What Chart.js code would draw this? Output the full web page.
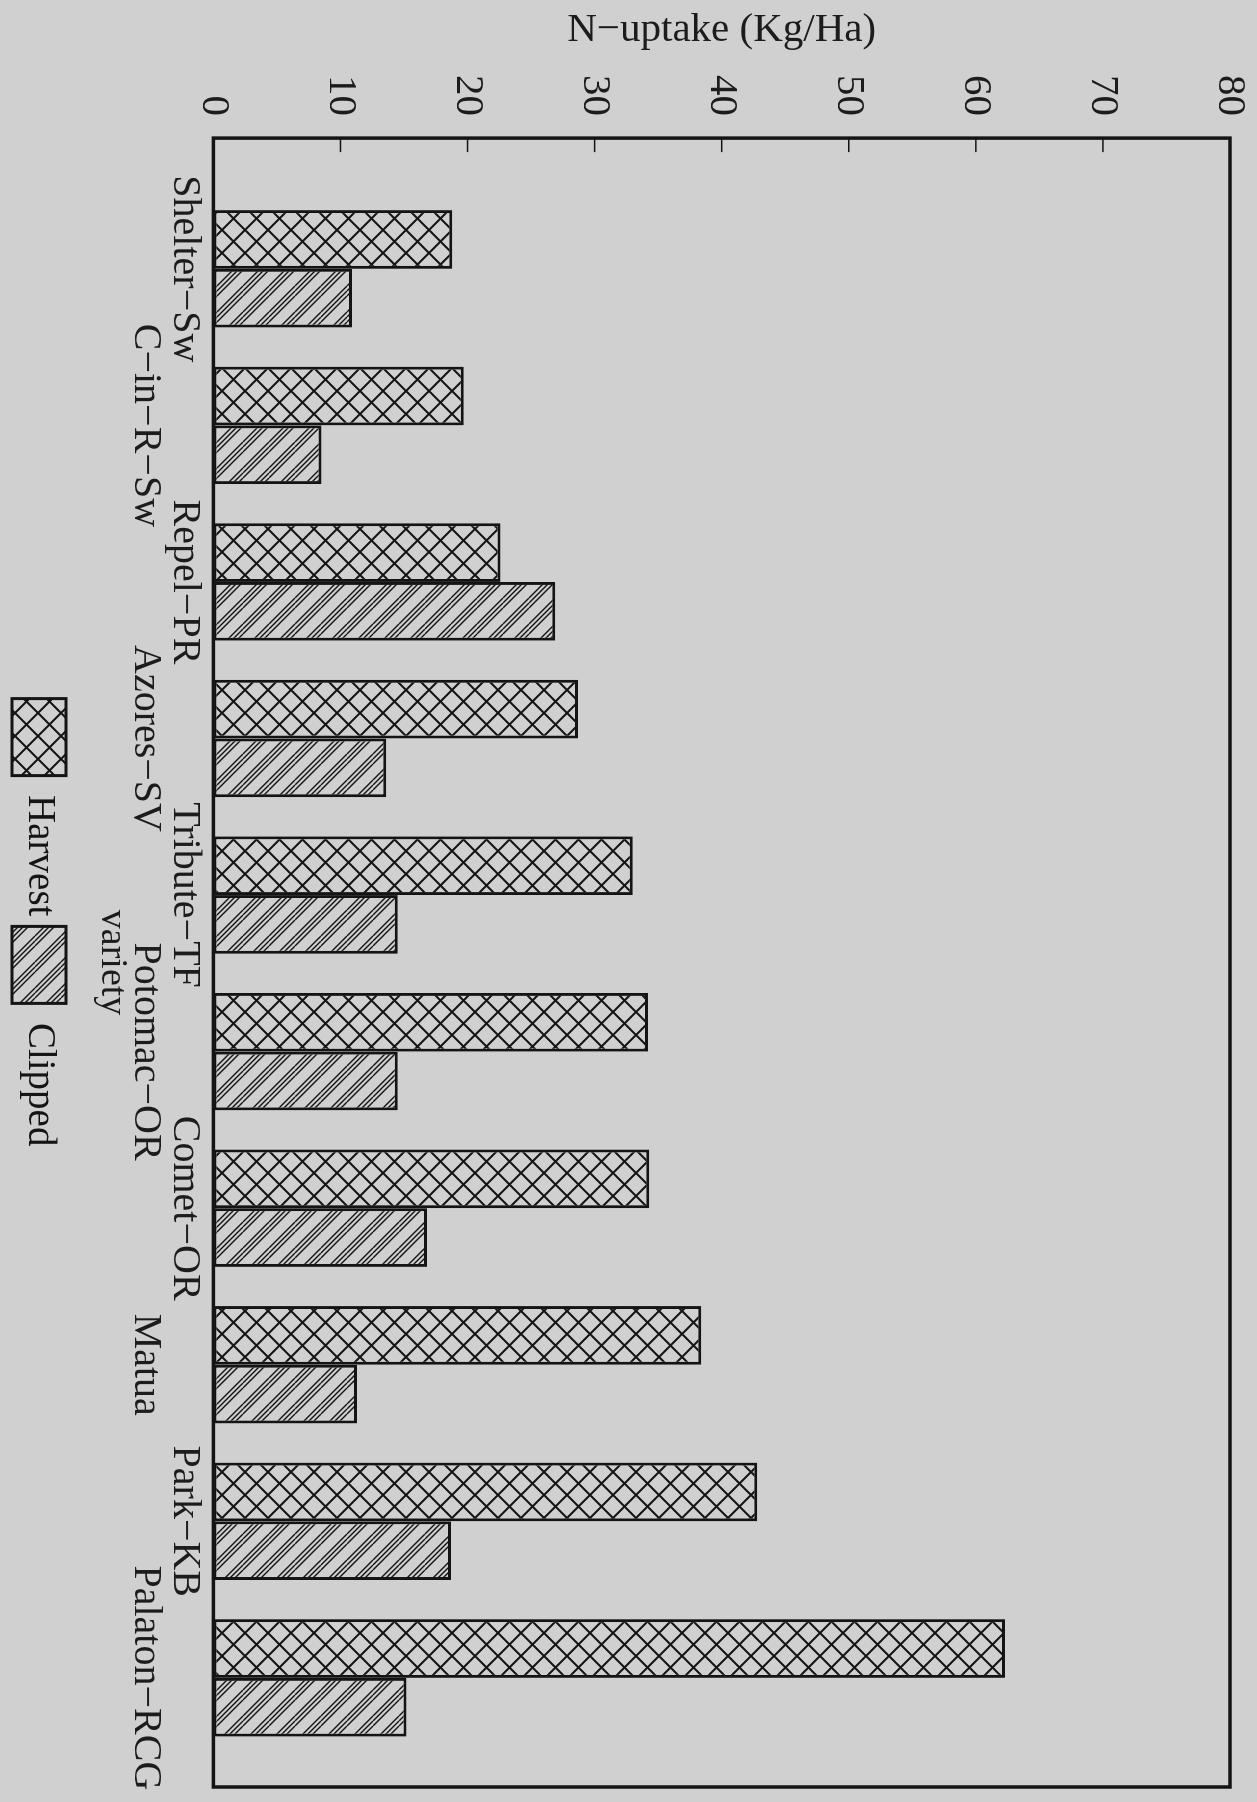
<!DOCTYPE html>
<html>
<head>
<meta charset="utf-8">
<script src="https://cdn.jsdelivr.net/npm/chart.js@4.4.0/dist/chart.umd.min.js"></script>
<style>
  html, body { margin: 0; padding: 0; background: #d0d0d0; overflow: hidden; width: 1257px; height: 1802px; }
  /* chart is drawn upright and the whole thing turned a quarter clockwise, like the scan */
  #wrap { position: absolute; left: 0; top: 0; width: 1802px; height: 1257px;
          transform-origin: 0 0; transform: translateX(1257px) rotate(90deg); }
</style>
</head>
<body>
<div id="wrap"><canvas id="myChart" width="1802" height="1257"></canvas></div>
<script>
var varieties = ['Shelter−Sw', 'C−in−R−Sw', 'Repel−PR', 'Azores−SV', 'Tribute−TF',
                 'Potomac−OR', 'Comet−OR', 'Matua', 'Park−KB', 'Palaton−RCG'];
var harvest = [18.8, 19.7, 22.6, 28.7, 33.0, 34.2, 34.3, 38.4, 42.8, 62.3];
var clipped = [10.9, 8.5, 26.9, 13.6, 14.5, 14.5, 16.8, 11.3, 18.7, 15.2];
var valueTicks = [0, 10, 20, 30, 40, 50, 60, 70, 80];

var ink = '#141414';
var paper = '#d0d0d0';

Chart.defaults.font.family = "'Liberation Serif', 'DejaVu Serif', serif";
Chart.defaults.color = '#1c1c1c';

// hatch fills
function hatch(size, offsets, both, lw) {
  var c = document.createElement('canvas');
  c.width = size; c.height = size;
  var g = c.getContext('2d');
  g.fillStyle = paper;
  g.fillRect(0, 0, size, size);
  g.strokeStyle = ink;
  g.lineWidth = lw;
  g.beginPath();
  offsets.forEach(function (o) {
    [-size, 0, size].forEach(function (d) {
      g.moveTo(d + o, 0); g.lineTo(d + o + size, size);
      if (both) { g.moveTo(d + o, size); g.lineTo(d + o + size, 0); }
    });
  });
  g.stroke();
  return g.createPattern(c, 'repeat');
}
var crossFill = hatch(23, [0], true, 2);
var slashFill = hatch(26, [0, 5, 10], false, 1.4);

var ctx = document.getElementById('myChart');

var frame = {
  id: 'frame',
  afterDatasetsDraw: function (chart) {
    var a = chart.chartArea, c = chart.ctx, y = chart.scales.y;
    c.save();
    c.strokeStyle = ink;
    c.lineWidth = 3.5;
    c.strokeRect(a.left, a.top, a.right - a.left, a.bottom - a.top);
    c.lineWidth = 1.5;
    valueTicks.forEach(function (v) {
      if (v > 0 && v < 80) {
        var p = y.getPixelForValue(v);
        c.beginPath(); c.moveTo(a.left, p); c.lineTo(a.left + 14, p); c.stroke();
      }
    });
    c.restore();
  }
};

var myChart = new Chart(ctx, {
  type: 'bar',
  data: {
    datasets: [{
      label: 'Harvest',
      data: harvest.map(function (v, i) { return { x: i, y: v }; }),
      backgroundColor: crossFill,
      borderColor: ink,
      borderWidth: 3,
      borderSkipped: false
    }, {
      label: 'Clipped',
      data: clipped.map(function (v, i) { return { x: i, y: v }; }),
      backgroundColor: slashFill,
      borderColor: ink,
      borderWidth: 3,
      borderSkipped: false
    }]
  },
  options: {
    responsive: false,
    devicePixelRatio: 1,
    animation: false,
    categoryPercentage: 0.75,
    barPercentage: 1.0,
    // left padding only nudges the legend; the y title pulls back by the same amount
    layout: { padding: { left: 58, right: 15, top: 27, bottom: 2 } },
    plugins: {
      tooltip: { enabled: false },
      legend: {
        position: 'bottom',
        labels: { boxWidth: 77, boxHeight: 54, padding: 10, color: ink, font: { size: 39 } }
      }
    },
    scales: {
      x: {
        type: 'linear',
        min: -0.835,
        max: 9.697,
        offset: false,
        grid: { display: false, drawTicks: false },
        border: { display: false },
        ticks: {
          stepSize: 1,
          includeBounds: false,
          autoSkip: false,
          maxRotation: 0,
          minRotation: 0,
          padding: 9.5,
          font: { size: 40, lineHeight: 0.98 },
          callback: function (v) {
            var name = varieties[v];
            if (name === undefined) return '';
            return v % 2 === 0 ? [name, ''] : ['', name];
          }
        },
        title: { display: true, text: 'variety', font: { size: 38, lineHeight: 1.0 }, padding: { top: -15, bottom: 17 } }
      },
      y: {
        min: 0,
        max: 80,
        grid: { display: false, drawTicks: false },
        border: { display: false },
        ticks: { stepSize: 10, padding: 22, font: { size: 41 } },
        title: { display: true, text: 'N−uptake (Kg/Ha)', font: { size: 41, lineHeight: 1.1 }, padding: { top: -50, bottom: 0 } },
        afterFit: function (s) { s.paddingTop = 0; s.paddingBottom = 0; }
      }
    }
  },
  plugins: [frame]
});
</script>
</body>
</html>
